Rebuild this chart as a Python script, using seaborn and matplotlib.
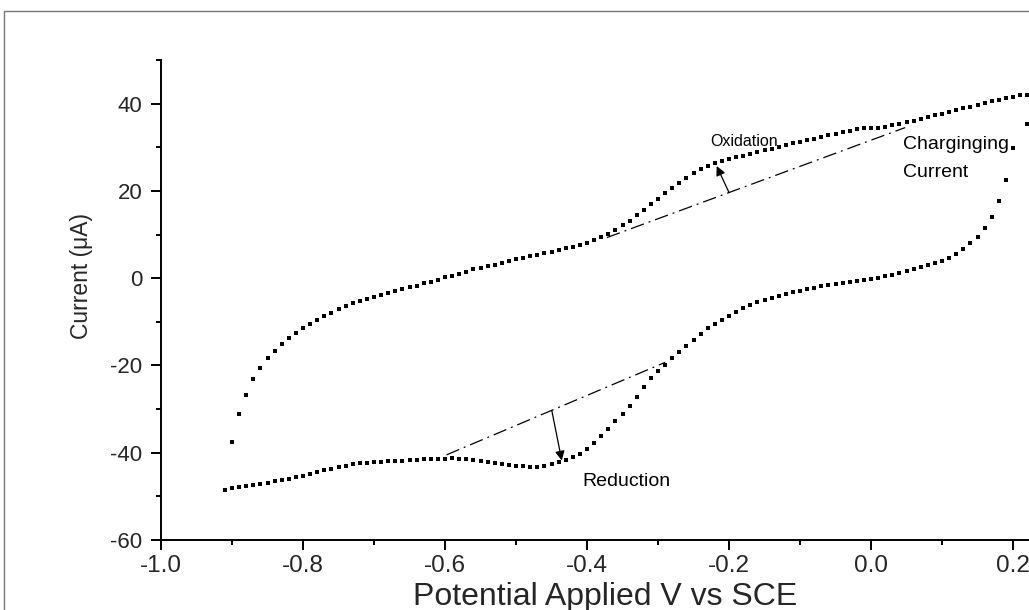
import numpy as np
import pandas as pd
import matplotlib
matplotlib.use("Agg")
import matplotlib.pyplot as plt
import seaborn as sns
from matplotlib.patches import Rectangle
from matplotlib.ticker import MultipleLocator, FormatStrFormatter

# ---- data ----
forward_start = -0.90          # V, anodic scan start
scan_step = 0.01               # V between recorded points
forward_current = [
    -37.6, -31.1, -26.7, -23.2, -20.6, -18.4, -16.7, -15.1, -13.8, -12.5,
    -11.5, -10.4, -9.5, -8.7, -7.9, -7.1, -6.4, -5.8, -5.3, -4.8,
    -4.3, -3.8, -3.3, -2.9, -2.6, -2.1, -1.7, -1.2, -0.8, -0.4,
    0.2, 0.5, 1.0, 1.5, 2.0, 2.4, 2.7, 3.1, 3.5, 3.9,
    4.3, 4.6, 5.0, 5.3, 5.7, 6.0, 6.4, 6.8, 7.2, 7.6,
    8.1, 8.7, 9.4, 10.2, 11.1, 12.1, 13.2, 14.4, 15.6, 16.9,
    18.2, 19.5, 20.7, 21.9, 23.0, 24.0, 24.9, 25.7, 26.3, 26.8,
    27.3, 27.7, 28.1, 28.5, 28.9, 29.3, 29.7, 30.1, 30.5, 30.9,
    31.3, 31.7, 32.0, 32.4, 32.7, 33.1, 33.4, 33.8, 34.1, 34.4,
    34.4, 34.5, 34.7, 35.0, 35.4, 35.7, 36.1, 36.5, 36.9, 37.3,
    37.7, 38.1, 38.5, 38.9, 39.3, 39.7, 40.1, 40.5, 40.9, 41.3,
    41.6, 41.9, 42.0,
]
reverse_first_potential = 0.22  # first visible point of the cathodic scan
reverse_start = 0.20
reverse_current = [
    35.3,
    29.9, 22.5, 17.6, 14.1, 11.5, 9.5, 8.0, 6.7, 5.5, 4.6,
    4.0, 3.4, 2.9, 2.5, 2.0, 1.6, 1.1, 0.7, 0.4, 0.1,
    -0.1, -0.4, -0.7, -0.9, -1.1, -1.3, -1.6, -1.9, -2.2, -2.5,
    -2.9, -3.2, -3.6, -4.1, -4.5, -5.0, -5.5, -6.1, -6.8, -7.7,
    -8.6, -9.5, -10.5, -11.5, -12.8, -14.1, -15.5, -17.0, -18.4, -19.8,
    -21.2, -22.9, -25.0, -27.3, -29.2, -31.1, -32.8, -34.5, -36.2, -37.7,
    -39.1, -40.2, -41.0, -41.6, -42.2, -42.7, -43.1, -43.3, -43.3, -43.1,
    -43.0, -42.8, -42.5, -42.3, -42.1, -41.8, -41.6, -41.5, -41.4, -41.3,
    -41.4, -41.5, -41.5, -41.5, -41.6, -41.7, -41.8, -41.8, -41.9, -42.1,
    -42.1, -42.3, -42.4, -42.7, -43.0, -43.3, -43.7, -44.0, -44.4, -44.8,
    -45.3, -45.6, -46.0, -46.3, -46.6, -46.9, -47.1, -47.3, -47.6, -47.9,
    -48.2, -48.5,
]

# baselines (charging current) and arrows
ox_baseline_x = [-0.372, 0.048]
ox_baseline_y = [9.3, 34.5]
red_baseline_x = [-0.598, -0.29]
red_baseline_y = [-40.5, -19.3]
ox_arrow = {"tail": (-0.200, 19.6), "head": (-0.2174, 25.7)}
red_arrow = {"tail": (-0.4497, -30.3), "head": (-0.4356, -41.8)}

x_ticks = [-1.0, -0.8, -0.6, -0.4, -0.2, 0.0, 0.2]
y_ticks = [-60, -40, -20, 0, 20, 40]

# ---- build table ----
forward_potential = np.round(forward_start + scan_step * np.arange(len(forward_current)), 2)
reverse_potential = np.concatenate([
    [reverse_first_potential],
    np.round(reverse_start - scan_step * np.arange(len(reverse_current) - 1), 2),
])
df = pd.DataFrame({
    "potential": np.concatenate([forward_potential, reverse_potential]),
    "current": forward_current + reverse_current,
    "scan": ["forward"] * len(forward_current) + ["reverse"] * len(reverse_current),
})

# ---- style ----
sns.set_theme(style="ticks")
plt.rcParams["font.family"] = ["Liberation Sans", "DejaVu Sans"]
plt.rcParams["axes.unicode_minus"] = False

fig = plt.figure(figsize=(10.29, 6.10), dpi=100)
fig.patch.set_facecolor("white")
ax = fig.add_axes([0.1565, 0.1148, 0.8625, 0.7869])

sns.scatterplot(data=df, x="potential", y="current", marker="s", s=12,
                color="black", linewidth=0, legend=False, ax=ax)

ax.plot(ox_baseline_x, ox_baseline_y, color="black", lw=0.9,
        linestyle=(0, (11, 4, 1.5, 4)))
ax.plot(red_baseline_x, red_baseline_y, color="black", lw=0.9,
        linestyle=(0, (11, 4, 1.5, 4)))

for arr in (ox_arrow, red_arrow):
    ax.annotate("", xy=arr["head"], xytext=arr["tail"],
                arrowprops=dict(arrowstyle="-|>", color="black", lw=0.9,
                                mutation_scale=14, shrinkA=0, shrinkB=0))

ax.text(-0.227, 30.2, "Oxidation", fontsize=11.5, color="black", va="baseline")
ax.text(0.0455, 29.6, "Charginging", fontsize=14, color="black", va="baseline")
ax.text(0.0455, 23.1, "Current", fontsize=14, color="black", va="baseline")
ax.text(-0.4066, -47.6, "Reduction", fontsize=14, color="black", va="baseline")

ax.set_xlim(-1.0, 0.25)
ax.set_ylim(-60, 50)
ax.set_xticks(x_ticks)
ax.set_yticks(y_ticks)
ax.xaxis.set_major_formatter(FormatStrFormatter("%.1f"))
ax.xaxis.set_minor_locator(MultipleLocator(0.1))
ax.yaxis.set_minor_locator(MultipleLocator(10))
ax.tick_params(axis="both", which="major", direction="out", length=7.5,
               width=1.4, color="black")
ax.tick_params(axis="both", which="minor", direction="out", length=3.5,
               width=1.4, color="black")
ax.tick_params(axis="x", which="major", labelsize=17.5, pad=3)
ax.tick_params(axis="y", which="major", labelsize=16, pad=6)

sns.despine(ax=ax)
for side in ("left", "bottom"):
    ax.spines[side].set_linewidth(1.4)
    ax.spines[side].set_color("black")

ax.set_xlabel("Potential Applied V vs SCE", fontsize=23, labelpad=4)
ax.set_ylabel("Current (\u03bcA)", fontsize=16.5)
ax.yaxis.set_label_coords(-0.077, 0.55)

fig.add_artist(Rectangle((0.0039, -0.5), 2.0, 0.982 + 0.5,
                         transform=fig.transFigure, fill=False,
                         edgecolor="#777777", lw=1.0))

fig.savefig("out.png", dpi=100)
